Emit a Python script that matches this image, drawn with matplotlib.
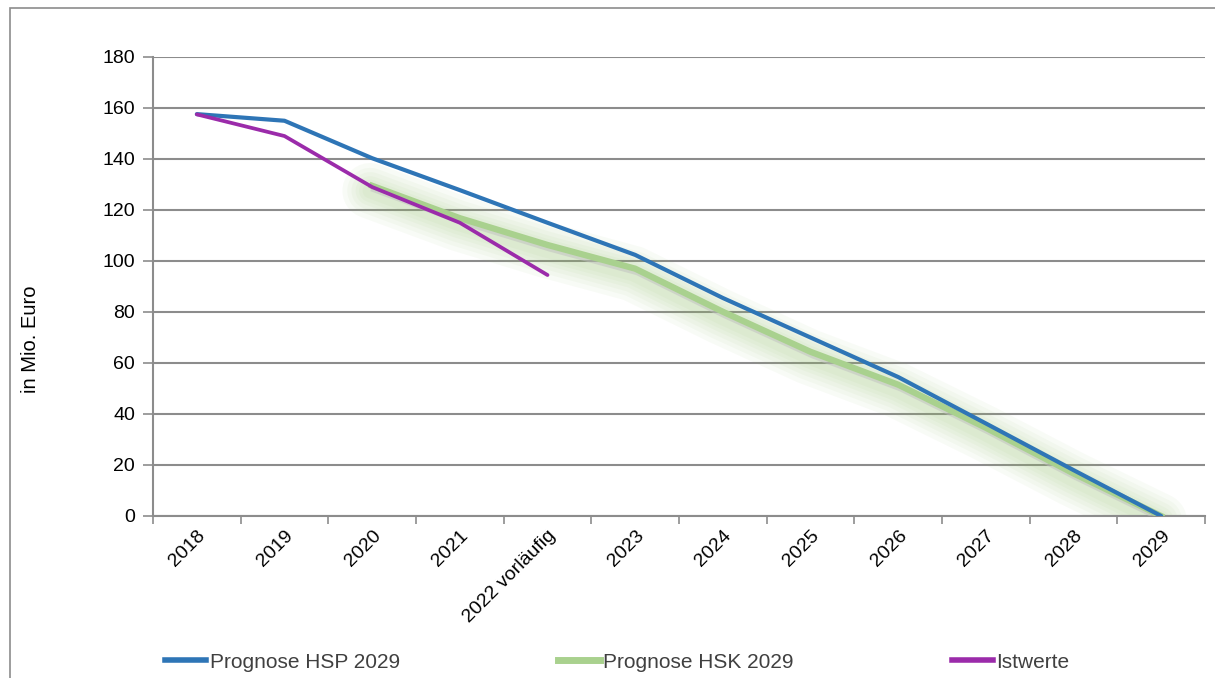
import matplotlib
matplotlib.use("Agg")
import matplotlib.pyplot as plt
import matplotlib.patheffects as pe
from matplotlib.patches import Rectangle
from matplotlib.transforms import offset_copy
import numpy as np

plt.rcParams['font.family'] = ['Liberation Sans', 'DejaVu Sans']

# data (Mio. Euro)
years = ['2018', '2019', '2020', '2021', '2022 vorläufig', '2023', '2024',
         '2025', '2026', '2027', '2028', '2029']
hsp = [157.6, 155.0, 140.3, 127.8, 115.0, 102.4, 85.5, 70.0, 54.5, 36.3, 18.0, 0.0]
hsk = [np.nan, np.nan, 129.5, 116.8, 106.3, 97.0, 80.1, 64.4, 51.5, 34.6, 16.7, 0.0]
ist = [157.5, 149.0, 129.0, 115.0, 94.5]

c_blue = '#2E75B6'
c_green = '#A9D18E'
c_purple = '#9B2BAA'
grid_c = '#8C8C8C'

fig = plt.figure(figsize=(12.15, 6.78), dpi=100)
ax = fig.add_axes([153 / 1215, 1 - 516 / 678, (1205 - 153) / 1215, (516 - 57) / 678])

x = np.arange(len(years))

# soft glow under the green line, a bit shifted downwards
glow_tr = offset_copy(ax.transData, fig=fig, x=-2, y=-5, units='dots')
for lw in [40, 33, 27, 21, 16, 11]:
    ax.plot(x, hsk, color='#8CBF66', lw=lw, alpha=0.055, solid_capstyle='round',
            solid_joinstyle='round', transform=glow_tr, zorder=2)
ax.plot(x, hsk, color=c_green, lw=4.5, zorder=3,
        path_effects=[pe.SimpleLineShadow(offset=(1.5, -2.5), shadow_color='#bfbfbf', alpha=0.5),
                      pe.Normal()])
ax.plot(x, hsp, color=c_blue, lw=3, zorder=4, solid_capstyle='round')
ax.plot(x[:len(ist)], ist, color=c_purple, lw=2.7, zorder=5, solid_capstyle='round')

ax.set_xlim(-0.5, len(years) - 0.5)
ax.set_ylim(0, 180)
ax.set_yticks(np.arange(0, 181, 20))
ax.yaxis.grid(True, color=grid_c, lw=1.5)
ax.set_axisbelow(True)

ax.set_xticks(x)
ax.set_xticklabels(years, rotation=45, ha='right', rotation_mode='anchor', fontsize=14)
ax.set_xticks(np.arange(-0.5, len(years), 1), minor=True)
ax.tick_params(axis='x', which='major', length=0, pad=8)
ax.tick_params(axis='x', which='minor', length=6, width=1.2, color=grid_c)
ax.tick_params(axis='y', length=7, width=1.2, color=grid_c, labelsize=14, pad=6)

for s in ['top', 'right']:
    ax.spines[s].set_visible(False)
for s in ['left', 'bottom']:
    ax.spines[s].set_color(grid_c)
    ax.spines[s].set_linewidth(1.5)

fig.text(30 / 1215, 1 - 339 / 678, 'in Mio. Euro', rotation=90, ha='center', va='center',
         fontsize=14.5)

# outer frame
fig.patches.append(Rectangle((10 / 1215, -0.1), 1.2, 0.1 + 1 - 8 / 678, transform=fig.transFigure,
                             fill=False, edgecolor='#8C8C8C', lw=1.2))

# legend
handles = [plt.Line2D([], [], color=c_blue, lw=4),
           plt.Line2D([], [], color=c_green, lw=5),
           plt.Line2D([], [], color=c_purple, lw=4)]
labels = ['Prognose HSP 2029', 'Prognose HSK 2029', 'Istwerte']
fig.legend(handles, labels, loc='center left', bbox_to_anchor=(146 / 1215, 1 - 662 / 678),
           ncol=3, frameon=False, fontsize=15, handlelength=2.0, handletextpad=0.15,
           columnspacing=7.6, labelcolor='#404040')

fig.savefig('out.png', dpi=100)
